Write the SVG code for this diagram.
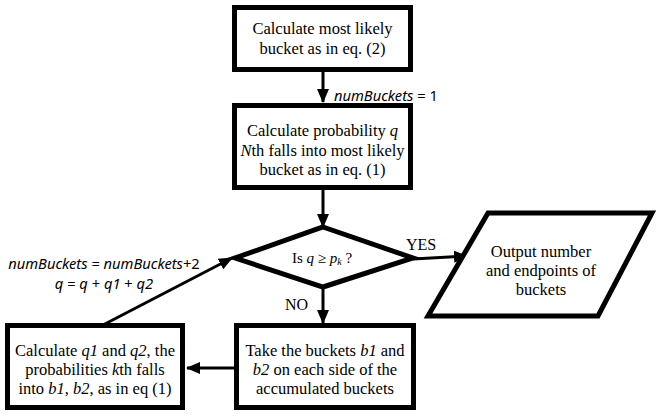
<svg xmlns="http://www.w3.org/2000/svg" width="657" height="417" viewBox="0 0 657 417">
<style>
.box{fill:#fff;stroke:#000;stroke-width:5}
.t{font-family:"Liberation Serif",serif;font-size:16.5px;fill:#000;text-anchor:middle}
.lbl{font-family:"Liberation Serif",serif;font-size:16px;fill:#000}
.ml{font-family:"Noto Sans",sans-serif;font-size:14.7px;fill:#000}
.c{stroke:#000;stroke-width:3;fill:none}
.it{font-style:italic}
</style>
<defs>
<marker id="ah" markerWidth="14" markerHeight="12" refX="13" refY="6" orient="auto" markerUnits="userSpaceOnUse">
<path d="M0,0 L14,6 L0,12 Z" fill="#000"/>
</marker>
</defs>
<g id="connectors">
<line class="c" x1="323" y1="72" x2="323" y2="102" marker-end="url(#ah)"/>
<line class="c" x1="323" y1="190" x2="323" y2="227" marker-end="url(#ah)"/>
<line class="c" x1="413" y1="259" x2="467" y2="256" marker-end="url(#ah)"/>
<line class="c" x1="323" y1="287" x2="323" y2="323" marker-end="url(#ah)"/>
<line class="c" x1="234" y1="368" x2="187" y2="368" marker-end="url(#ah)"/>
<line class="c" x1="103" y1="325" x2="232" y2="258" marker-end="url(#ah)"/>
<text class="ml" x="334" y="101"><tspan class="it">numBuckets</tspan> = 1</text>
<text class="lbl" x="406" y="250">YES</text>
<text class="lbl" x="285" y="310">NO</text>
<text class="ml" x="104" y="269" text-anchor="middle"><tspan class="it">numBuckets</tspan> = <tspan class="it">numBuckets</tspan>+2</text>
<text class="ml" x="104" y="289" text-anchor="middle"><tspan class="it">q</tspan> = <tspan class="it">q</tspan> + <tspan class="it">q1</tspan> + <tspan class="it">q2</tspan></text>
</g>
<g id="n1">
<rect class="box" x="234.5" y="7.5" width="176" height="62"/>
<text class="t" x="322.5" y="34">Calculate most likely</text>
<text class="t" x="322.5" y="54">bucket as in eq. (2)</text>
</g>
<g id="n2">
<rect class="box" x="234.5" y="105.5" width="176" height="82"/>
<text class="t" x="322.5" y="136">Calculate probability <tspan class="it">q</tspan></text>
<text class="t" x="322.5" y="156"><tspan class="it">N</tspan>th falls into most likely</text>
<text class="t" x="322.5" y="175">bucket as in eq. (1)</text>
</g>
<g id="n3">
<polygon class="box" points="323,227 413,258 323,287 235,258"/>
<text class="t" x="322" y="263" style="font-size:15px">Is <tspan class="it">q</tspan> ≥ <tspan class="it">p</tspan><tspan class="it" style="font-size:10px" dy="2">k</tspan><tspan dy="-2"> ?</tspan></text>
</g>
<g id="n4">
<polygon class="box" points="488,213 652,213 598,316 428,316"/>
<text class="t" x="541" y="257">Output number</text>
<text class="t" x="541" y="276">and endpoints of</text>
<text class="t" x="541" y="295">buckets</text>
</g>
<g id="n5">
<rect class="box" x="236.5" y="325.5" width="177" height="82"/>
<text class="t" x="325" y="356">Take the buckets <tspan class="it">b1</tspan> and</text>
<text class="t" x="325" y="375"><tspan class="it">b2</tspan> on each side of the</text>
<text class="t" x="325" y="394">accumulated buckets</text>
</g>
<g id="n6">
<rect class="box" x="7.5" y="325.5" width="175" height="82"/>
<text class="t" x="95" y="356">Calculate <tspan class="it">q1</tspan> and <tspan class="it">q2</tspan>, the</text>
<text class="t" x="95" y="375">probabilities <tspan class="it">k</tspan>th falls</text>
<text class="t" x="95" y="394">into <tspan class="it">b1</tspan>, <tspan class="it">b2</tspan>, as in eq (1)</text>
</g>
</svg>
